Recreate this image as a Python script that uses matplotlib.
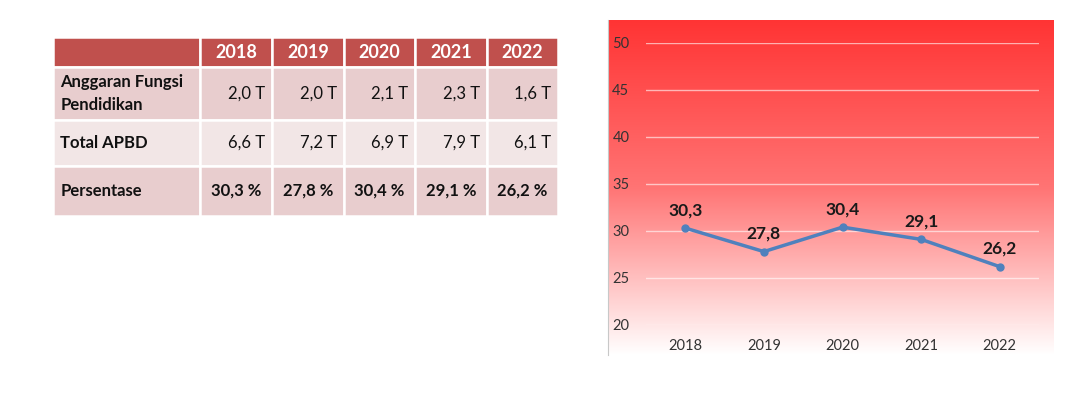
import numpy as np
import matplotlib
matplotlib.use("Agg")
import matplotlib.pyplot as plt
from matplotlib.table import Table
from matplotlib.colors import LinearSegmentedColormap

plt.rcParams['font.family'] = ['Lato', 'DejaVu Sans']

# data
tahun = ['2018', '2019', '2020', '2021', '2022']
anggaran = ['2,0 T', '2,0 T', '2,1 T', '2,3 T', '1,6 T']
total_apbd = ['6,6 T', '7,2 T', '6,9 T', '7,9 T', '6,1 T']
persentase = [30.3, 27.8, 30.4, 29.1, 26.2]
row_labels = ['Anggaran Fungsi\nPendidikan', 'Total APBD', 'Persentase']

fig = plt.figure(figsize=(10.8, 3.97), dpi=100)

# tabel
tax = fig.add_axes([53/1080, 1 - 216/397, 505/1080, 179/397])
tax.axis('off')
tbl = Table(tax, bbox=[0, 0, 1, 1])
col_w = [147, 72, 72, 71, 72, 71]
row_h = [30, 53, 46, 50]
row_fc = ['#C0504D', '#E8CDCE', '#F2E6E6', '#E8CDCE']
body = [anggaran, total_apbd, [f"{p:.1f} %".replace('.', ',') for p in persentase]]

for c in range(6):
    cell = tbl.add_cell(0, c, col_w[c], row_h[0], text='' if c == 0 else tahun[c-1],
                        loc='center', facecolor=row_fc[0], edgecolor='white')
    cell.get_text().set_fontweight('bold')
    cell.get_text().set_fontsize(13)
for r in range(3):
    lab = tbl.add_cell(r+1, 0, col_w[0], row_h[r+1], text=row_labels[r], loc='left',
                       facecolor=row_fc[r+1], edgecolor='white')
    lab.get_text().set_fontweight('bold')
    lab.get_text().set_fontsize(12)
    lab.get_text().set_linespacing(1.55)
    lab.PAD = 0.05
    for c in range(5):
        cell = tbl.add_cell(r+1, c+1, col_w[c+1], row_h[r+1], text=body[r][c],
                            loc='center' if r == 2 else 'right',
                            facecolor=row_fc[r+1], edgecolor='white')
        cell.get_text().set_fontsize(12)
        cell.PAD = 0.1
        if r == 2:
            cell.get_text().set_fontweight('bold')
for cell in tbl.get_celld().values():
    cell.set_linewidth(1.8)
    cell.get_text().set_color('white' if cell.get_facecolor()[0] < 0.8 else '#111111')
tbl.auto_set_font_size(False)
tax.add_table(tbl)

# latar gradasi
bg = fig.add_axes([608/1080, 1 - 355/397, 446/1080, 335/397])
cmap = LinearSegmentedColormap.from_list('merah', ['#FF3434', '#FF7474', '#FFFFFF'])
bg.imshow(np.linspace(0, 1, 256).reshape(-1, 1), aspect='auto', cmap=cmap,
          extent=[0, 1, 0, 1], origin='upper')
bg.set_xticks([])
bg.set_yticks([])
for s in ['top', 'right', 'bottom']:
    bg.spines[s].set_visible(False)
bg.spines['left'].set_color('#C8C8C8')
bg.spines['left'].set_linewidth(0.8)

# grafik garis
ax = fig.add_axes([646/1080, 1 - 325/397, 393/1080, 282.3/397])
ax.patch.set_alpha(0)
x = np.arange(len(tahun))
ax.plot(x, persentase, color='#4F81BD', lw=2.5, marker='o', ms=5)
for xi, p in zip(x, persentase):
    ax.annotate(f"{p:.1f}".replace('.', ','), (xi, p), xytext=(0, 7),
                textcoords='offset points', ha='center', va='bottom',
                fontsize=12.5, fontweight='bold', color='#1a1a1a')
ax.set_xlim(-0.5, 4.5)
ax.set_ylim(20, 50)
ax.set_yticks(range(20, 51, 5))
ax.set_xticks(x)
ax.set_xticklabels(tahun)
ax.grid(axis='y', color='white', alpha=0.6, lw=1)
ax.set_axisbelow(True)
for s in ax.spines.values():
    s.set_visible(False)
ax.tick_params(length=0, labelsize=10.5, labelcolor='#333333')
ax.tick_params(axis='y', pad=12)
ax.tick_params(axis='x', pad=10)

plt.savefig('out.png', dpi=100)
